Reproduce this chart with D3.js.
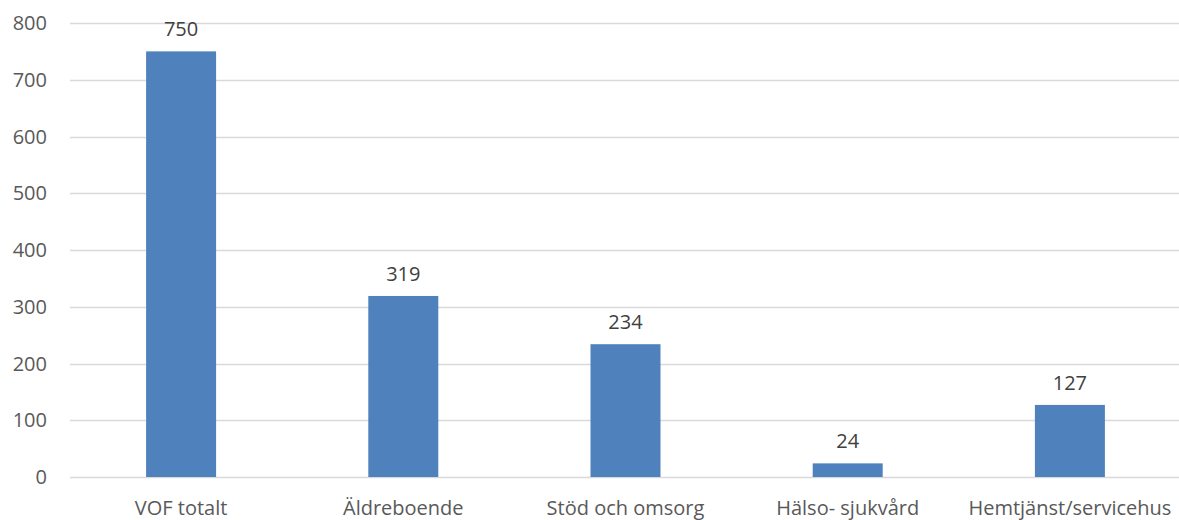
<!DOCTYPE html>
<html>
<head>
<meta charset="utf-8">
<script src="https://cdn.jsdelivr.net/npm/d3@7"></script>
<style>
  html, body { margin: 0; padding: 0; background: #ffffff; }
  svg { display: block; }
  text { font-family: "Open Sans", Lato, "Liberation Sans", sans-serif; }
</style>
</head>
<body>
<svg id="chart" width="1179" height="520"></svg>
<script>
// Antal per verksamhetsområde
const categories = ["VOF totalt", "Äldreboende", "Stöd och omsorg", "Hälso- sjukvård", "Hemtjänst/servicehus"];
const values = [750, 319, 234, 24, 127];
const yTicks = [0, 100, 200, 300, 400, 500, 600, 700, 800];

const svg = d3.select("#chart");
const W = 1179, H = 520;
const margin = { top: 23, right: -2, bottom: 43, left: 70 };

const x = d3.scaleBand()
  .domain(categories)
  .range([margin.left, W - margin.right])
  .padding(0);

const y = d3.scaleLinear()
  .domain([0, 800])
  .range([H - margin.bottom, margin.top]);

const fontSize = 20;

// horizontal gridlines
svg.append("g")
  .selectAll("line")
  .data(yTicks)
  .join("line")
  .attr("x1", margin.left)
  .attr("x2", W)
  .attr("y1", d => Math.round(y(d)) + 0.5)
  .attr("y2", d => Math.round(y(d)) + 0.5)
  .attr("stroke", "#d9d9d9")
  .attr("stroke-width", 1.3);

// y-axis labels
svg.append("g")
  .selectAll("text")
  .data(yTicks)
  .join("text")
  .attr("x", 47)
  .attr("y", d => y(d))
  .attr("dy", "0.35em")
  .attr("text-anchor", "end")
  .attr("font-size", fontSize)
  .attr("fill", "#595959")
  .text(d => d);

// bars
const barW = x.bandwidth() * 0.315;
svg.append("g")
  .selectAll("rect")
  .data(values)
  .join("rect")
  .attr("x", (d, i) => x(categories[i]) + x.bandwidth() / 2 - barW / 2)
  .attr("y", d => y(d))
  .attr("width", barW)
  .attr("height", d => y(0) - y(d))
  .attr("fill", "#4f81bd");

// value labels
svg.append("g")
  .selectAll("text")
  .data(values)
  .join("text")
  .attr("x", (d, i) => x(categories[i]) + x.bandwidth() / 2)
  .attr("y", d => y(d) - 15)
  .attr("text-anchor", "middle")
  .attr("font-size", fontSize)
  .attr("fill", "#404040")
  .text(d => d);

// category labels
svg.append("g")
  .selectAll("text")
  .data(categories)
  .join("text")
  .attr("x", d => x(d) + x.bandwidth() / 2)
  .attr("y", y(0) + 38)
  .attr("text-anchor", "middle")
  .attr("font-size", fontSize)
  .attr("fill", "#595959")
  .text(d => d);
</script>
</body>
</html>
